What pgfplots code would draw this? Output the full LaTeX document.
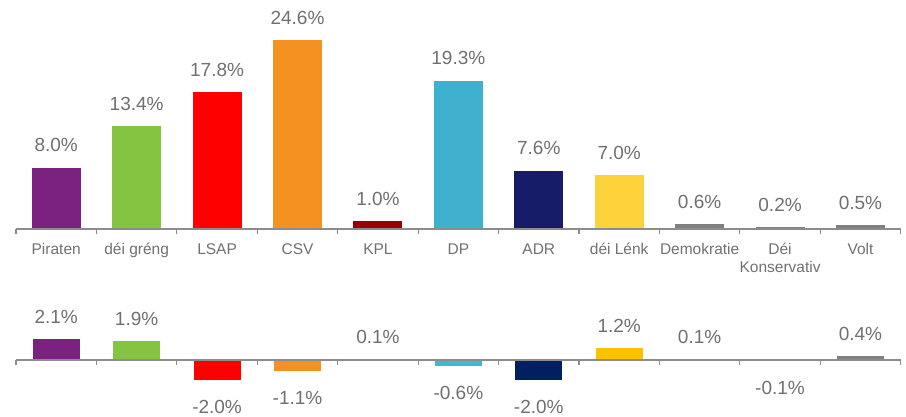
\documentclass[border=0pt]{standalone}
\usepackage{pgfplots}
\pgfplotsset{compat=1.18}
\usepackage{fontspec}
\setmainfont{Liberation Sans}
\definecolor{cPir}{HTML}{7B2180}
\definecolor{cGre}{HTML}{84C441}
\definecolor{cLsap}{HTML}{FF0000}
\definecolor{cCsv}{HTML}{F39221}
\definecolor{cKpl}{HTML}{990000}
\definecolor{cDp}{HTML}{3FB1CE}
\definecolor{cAdr}{HTML}{161C67}
\definecolor{cLenk}{HTML}{FDD23A}
\definecolor{cGray}{HTML}{808080}
\definecolor{cDpB}{HTML}{45B5D5}
\definecolor{cAdrB}{HTML}{00205F}
\definecolor{cLenkB}{HTML}{FFC000}
\definecolor{txt}{HTML}{707070}
\definecolor{axc}{HTML}{8C8C8C}
\pgfplotsset{
  base/.style={
    scale only axis, width=884.7pt, xmin=-0.5, xmax=10.5,
    hide y axis, clip=false, axis on top,
    ybar, bar shift=0pt,
    axis line style={axc, line width=1.5pt},
    xtick={0,...,10},
    minor xtick={-0.5,0.5,...,10.5},
    major tick length=0pt, minor tick length=4.5pt,
    tick align=outside,
    minor tick style={axc, line width=1.2pt},
    major tick style={draw=none},
    /pgf/number format/assume math mode=true,
    nodes near coords={\pgfmathprintnumber[fixed,zerofill,precision=1]{\pgfplotspointmeta}\%},
    every node near coord/.append style={font=\fontsize{19}{22}\selectfont, text=txt, anchor=center},
  },
  up/.style={draw=none, every node near coord/.append style={yshift=22.5pt}},
  dn/.style={draw=none, every node near coord/.append style={yshift=-27pt}},
}
\begin{document}
\begin{tikzpicture}
\useasboundingbox (0,0) rectangle (906pt,416pt);
\begin{axis}[base, at={(16pt,187pt)}, anchor=south west, height=189pt, ymin=0, ymax=24.6,
  axis x line*=bottom, bar width=49pt,
  xticklabels={Piraten, déi gréng, LSAP, CSV, KPL, DP, ADR, déi Lénk, Demokratie, {\setlength{\tabcolsep}{0pt}\begin{tabular}[t]{c}Déi\\Konservativ\end{tabular}}, Volt},
  xticklabel style={font=\fontsize{15.5}{18}\selectfont, text=txt, anchor=base, yshift=-25.3pt}]
\addplot[fill=cPir, up] coordinates {(0,8.0)};
\addplot[fill=cGre, up] coordinates {(1,13.4)};
\addplot[fill=cLsap, up] coordinates {(2,17.8)};
\addplot[fill=cCsv, up] coordinates {(3,24.6)};
\addplot[fill=cKpl, up] coordinates {(4,1.0)};
\addplot[fill=cDp, up] coordinates {(5,19.3)};
\addplot[fill=cAdr, up] coordinates {(6,7.6)};
\addplot[fill=cLenk, up] coordinates {(7,7.0)};
\addplot[fill=cGray, up] coordinates {(8,0.6)};
\addplot[fill=cGray, up] coordinates {(9,0.2)};
\addplot[fill=cGray, up] coordinates {(10,0.5)};
\end{axis}
\begin{axis}[base, at={(16pt,36.4pt)}, anchor=south west, height=40.18pt, ymin=-2.0, ymax=2.1,
  axis x line*=middle, bar width=47pt, xticklabels=\empty]
\addplot[fill=cPir, up] coordinates {(0,2.1)};
\addplot[fill=cGre, up] coordinates {(1,1.9)};
\addplot[fill=cLsap, dn] coordinates {(2,-2.0)};
\addplot[fill=cCsv, dn] coordinates {(3,-1.1)};
\addplot[fill=cKpl, up] coordinates {(4,0.1)};
\addplot[fill=cDpB, dn] coordinates {(5,-0.6)};
\addplot[fill=cAdrB, dn] coordinates {(6,-2.0)};
\addplot[fill=cLenkB, up] coordinates {(7,1.2)};
\addplot[fill=cGray, up] coordinates {(8,0.1)};
\addplot[fill=cGray, dn] coordinates {(9,-0.1)};
\addplot[fill=cGray, up] coordinates {(10,0.4)};
\end{axis}
\end{tikzpicture}
\end{document}
